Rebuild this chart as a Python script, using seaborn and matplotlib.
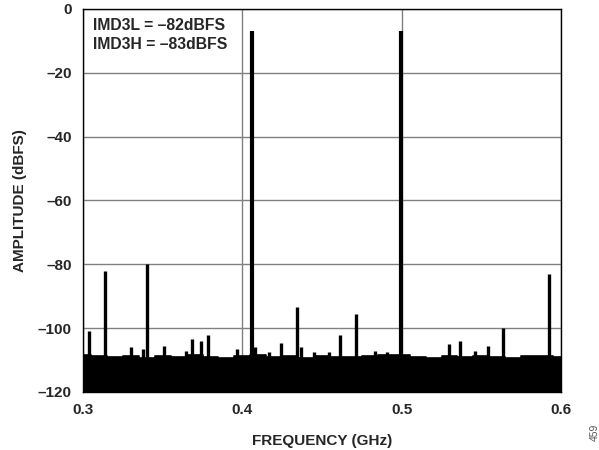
import matplotlib
matplotlib.use("Agg")
import matplotlib.pyplot as plt
import seaborn as sns
import pandas as pd

# noise floor top edge, read every 0.01 GHz from 0.30 to 0.60
floor_freq = [0.30 + 0.01 * i for i in range(31)]
floor_level = [-108.5, -108.8, -109.0, -108.6, -109.2, -108.7, -109.0, -108.4, -108.9, -109.3,
               -108.6, -108.5, -109.0, -108.8, -109.2, -108.6, -108.9, -109.1, -108.7, -108.5,
               -108.4, -108.9, -109.2, -108.8, -109.0, -108.7, -109.1, -109.3, -108.8, -108.6,
               -108.9]

# spurs and tones (GHz, dBFS)
spur_freq = [0.3038, 0.3136, 0.3300, 0.3376, 0.3400, 0.3508, 0.3647, 0.3684, 0.3740, 0.3785,
             0.3967, 0.4080, 0.4168, 0.4243, 0.4343, 0.4370, 0.4450, 0.4545, 0.4613, 0.4714,
             0.4830, 0.4910, 0.5297, 0.5367, 0.5460, 0.5543, 0.5637, 0.5925]
spur_level = [-101, -82, -106, -106.5, -80, -105.5, -107, -103.5, -104, -102,
              -106.5, -106, -107.5, -104.5, -93.5, -106, -107.5, -107.5, -102, -95.5,
              -107, -107.5, -105, -104, -107, -105.5, -100, -83]
tone_freq = [0.4062, 0.4993]
tone_level = [-7, -7]

sns.set_theme(style="white")
plt.rcParams["font.family"] = ["Liberation Sans", "DejaVu Sans"]

fig, ax = plt.subplots(figsize=(5.99, 4.5), dpi=100)
fig.subplots_adjust(left=0.1386, right=0.9366, top=0.98, bottom=0.1289)

floor = pd.DataFrame({"freq": floor_freq, "level": floor_level})
ax.fill_between(floor["freq"], -120, floor["level"], step="mid", color="black", lw=0)
sns.lineplot(data=floor, x="freq", y="level", ax=ax, color="black", lw=1.2,
             drawstyle="steps-mid")

ax.vlines(spur_freq, -120, spur_level, color="black", lw=2.4)
ax.vlines(tone_freq, -120, tone_level, color="black", lw=3.0)

ax.set_xlim(0.3, 0.6)
ax.set_ylim(-120, 0)
ax.set_xticks([0.3, 0.4, 0.5, 0.6])
ax.set_xticklabels(["0.3", "0.4", "0.5", "0.6"])
ax.set_yticks(range(-120, 1, 20))
ax.set_yticklabels(["\u2013" + str(-v) if v < 0 else "0" for v in range(-120, 1, 20)])
ax.grid(True, color="#808080", lw=1.0)
ax.set_axisbelow(True)
ax.tick_params(length=0, pad=8, labelsize=11)
for lab in ax.get_xticklabels() + ax.get_yticklabels():
    lab.set_fontweight("bold")
for s in ax.spines.values():
    s.set_color("black")
    s.set_linewidth(1.0)

ax.set_xlabel("FREQUENCY (GHz)", fontsize=11, fontweight="bold", labelpad=12)
ax.set_ylabel("AMPLITUDE (dBFS)", fontsize=11, fontweight="bold", labelpad=8)

ax.text(0.3062, -2.8, "IMD3L = \u201382dBFS\nIMD3H = \u201383dBFS", fontsize=11.3,
        fontweight="bold", va="top", ha="left", linespacing=1.3)

fig.text(0.993, 0.02, "459", rotation=90, fontsize=7.5, color="#555555", ha="center", va="bottom")

fig.savefig("out.png", dpi=100)
